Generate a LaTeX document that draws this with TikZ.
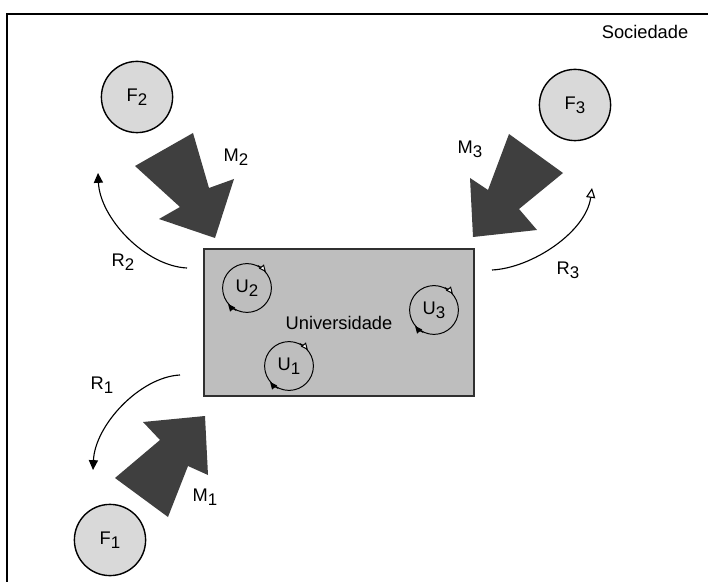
\documentclass[tikz,border=0pt]{standalone}
\usepackage{fontspec}
\setmainfont{Liberation Sans}
\usetikzlibrary{arrows.meta,positioning}
\definecolor{sdFonte}{HTML}{D9D9D9}
\definecolor{sdUniv}{HTML}{BEBEBE}
\definecolor{sdBorda}{HTML}{303030}
\definecolor{sdMassa}{HTML}{3F3F3F}
\newcommand{\idx}[1]{\raisebox{-0.45ex}{\fontsize{12}{13}\selectfont #1}}
\tikzset{
  sdtexto/.style={font=\fontsize{13}{15}\selectfont, inner sep=1pt},
  fonte/.style={
    circle, draw=black, line width=1pt, fill=sdFonte,
    minimum size=1.78cm, inner sep=0pt, sdtexto
  },
  unidade/.style={
    circle, draw=black, line width=0.7pt,
    minimum size=1.22cm, inner sep=0pt, sdtexto
  },
  univ/.style={
    rectangle, draw=sdBorda, line width=0.9pt, fill=sdUniv,
    minimum width=6.75cm, minimum height=3.675cm, sdtexto
  },
  massa/.style={fill=sdMassa},
  retorno/.style={line width=0.8pt, -{Triangle[length=7pt, width=6.5pt]}},
  retornoaberto/.style={line width=0.8pt, -{Triangle[open, fill=white, length=7pt, width=6.5pt]}},
  giro/.style={line width=0.7pt, -{Triangle[length=5pt, width=4.5pt]}},
  giroaberto/.style={line width=0.7pt, -{Triangle[open, fill=white, length=5pt, width=4.5pt]}},
  moldura/.style={line width=1.1pt, black}
}

\begin{document}
\begin{tikzpicture}[x=0.025cm, y=-0.025cm]
  \useasboundingbox (0,0) rectangle (708,582);

  % sociedade
  \draw[moldura] (708,14) -- (7,14) -- (7,582);
  \node[sdtexto] (soc) at (645,32) {Sociedade};

  % universidade
  \node[univ] (univ) at (339,322.5) {Universidade};
  \node[unidade] (u2) at (247,288) {U\idx{2}};
  \node[unidade] (u3) at (434,310) {U\idx{3}};
  \node[unidade] (u1) at (289,366) {U\idx{1}};
  \foreach \u in {u1,u2,u3} {
    \draw[giroaberto] (\u.64) arc[start angle=64, end angle=40, radius=0.61cm];
    \draw[giro] (\u.244) arc[start angle=244, end angle=220, radius=0.61cm];
  }

  % fontes
  \node[fonte] (f2) at (137,97) {F\idx{2}};
  \node[fonte] (f3) at (575,105) {F\idx{3}};
  \node[fonte] (f1) at (110,540) {F\idx{1}};

  % massas
  \fill[massa] (135,166) -- (193,133) -- (209,188) -- (234,179)
    -- (215,238) -- (159,219) -- (180,207) -- cycle;
  \fill[massa] (509,134) -- (563,173) -- (519,209) -- (537,230)
    -- (473,237) -- (470,178) -- (488,190) -- cycle;
  \fill[massa] (143,422) -- (160,440) -- (115,478) -- (168,517)
    -- (188,466) -- (208,475) -- (205,416) -- cycle;
  \node[sdtexto] (m2) at (236,157) {M\idx{2}};
  \node[sdtexto] (m3) at (470,149) {M\idx{3}};
  \node[sdtexto] (m1) at (205,497) {M\idx{1}};

  % retornos
  \coordinate (r2a) at (187,268);
  \coordinate (r2b) at (98,173);
  \coordinate (r3a) at (492,270);
  \coordinate (r3b) at (592,188);
  \coordinate (r1a) at (180,375);
  \coordinate (r1b) at (93,470);
  \draw[retorno] (r2a) .. controls (145,266) and (100,218) .. (r2b);
  \draw[retornoaberto] (r3a) .. controls (532,268) and (586,232) .. (r3b);
  \draw[retorno] (r1a) .. controls (140,377) and (95,425) .. (r1b);
  \node[sdtexto] (r2) at (123,262) {R\idx{2}};
  \node[sdtexto] (r3) at (568,270) {R\idx{3}};
  \node[sdtexto] (r1) at (102,385) {R\idx{1}};
\end{tikzpicture}
\end{document}
